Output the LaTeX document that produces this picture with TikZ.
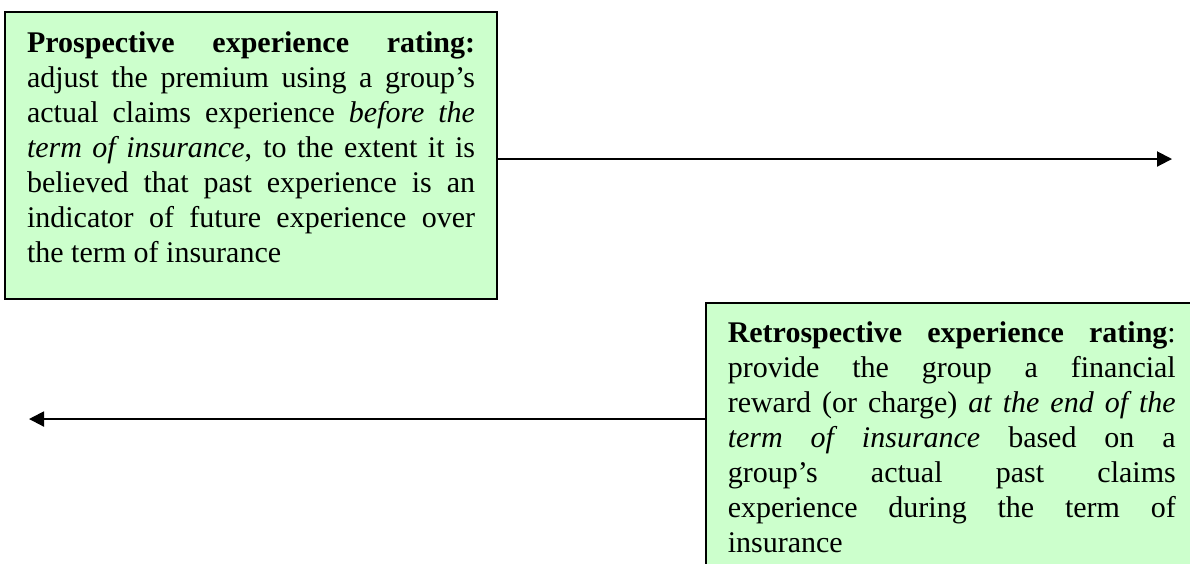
\documentclass[tikz,border=0pt]{standalone}
\usepackage{fontspec}
\setmainfont{Liberation Serif}
\usetikzlibrary{arrows.meta}
\definecolor{boxgreen}{RGB}{204,255,204}
\newcommand{\topstrut}[1]{\rule{0pt}{#1}}
\newcommand{\botstrut}[1]{\rule[-#1]{0pt}{0pt}}
\hyphenpenalty=10000

\begin{document}
\begin{tikzpicture}[x=0.4pt,y=-0.4pt]
  \tikzset{
    ratingbox/.style={draw,line width=0.8pt,fill=boxgreen,anchor=north west,
      text width=179.2pt,inner xsep=8.7pt,inner ysep=0pt,align=justify,
      font={\fontsize{12}{14}\selectfont}},
    timearrow/.style={line width=0.8pt,-{Triangle[length=6pt,width=6pt]}}
  }
  \useasboundingbox (0,0) rectangle (1190,563);
  \clip (0,0) rectangle (1190,563);
  % prospective rating: before the term
  \node[ratingbox] (prosp) at (4.3,11) {\topstrut{16.3pt}\textbf{Prospective experience rating:}\linebreak
    adjust the premium using a group’s\linebreak
    actual claims experience \textit{before the}\linebreak
    \textit{term of insurance}, to the extent it is\linebreak
    believed that past experience is an\linebreak
    indicator of future experience over\linebreak
    the term of insurance\botstrut{14.5pt}};
  % retrospective rating: at the end of the term
  \node[ratingbox] (retro) at (705,301.7) {\topstrut{16pt}\textbf{Retrospective experience rating}:\linebreak
    provide the group a financial\linebreak
    reward (or charge) \textit{at the end of the}\linebreak
    \textit{term of insurance} based on a\linebreak
    group’s actual past claims\linebreak
    experience during the term of\linebreak
    insurance\botstrut{14.5pt}};
  % arrows along the time line
  \coordinate (future) at (1172,159);
  \coordinate (past) at (29,419);
  \draw[timearrow] (prosp.east |- future) -- (future);
  \draw[timearrow] (retro.west |- past) -- (past);
\end{tikzpicture}
\end{document}
